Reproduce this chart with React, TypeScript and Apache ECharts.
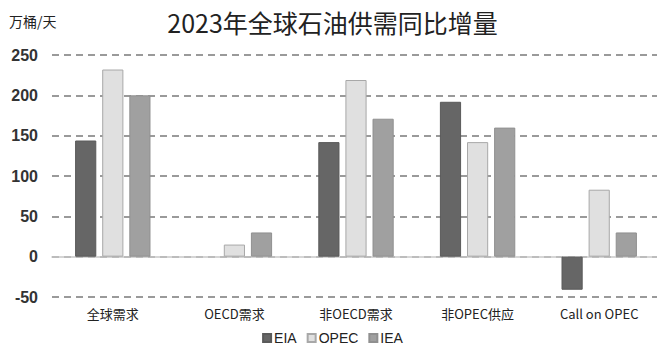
import React, { useEffect, useRef } from "react";
import * as echarts from "echarts";

const categories = ["全球需求", "OECD需求", "非OECD需求", "非OPEC供应", "Call on OPEC"];
const eiaValues = [144, null, 142, 192, -41];
const opecValues = [232, 15, 219, 142, 83];
const ieaValues = [200, 30, 171, 160, 30];
const yTicks = { min: -50, max: 250, interval: 50 };

export default function App() {
  const ref = useRef<HTMLDivElement>(null);
  useEffect(() => {
    if (!ref.current) return;
    const chart = echarts.init(ref.current, undefined, { renderer: "svg" });
    const numFont = "'Liberation Sans Narrow', 'Liberation Sans', Arial, sans-serif";
    const bar = (name: string, data: any[], color: string, border: string) => ({
      name,
      type: "bar",
      data,
      barGap: "28%",
      barCategoryGap: "38%",
      itemStyle: { color, borderColor: border, borderWidth: 1 },
    });
    chart.setOption({
      animation: false,
      backgroundColor: "#ffffff",
      title: [
        {
          text: "2023年全球石油供需同比增量",
          left: "center",
          top: 4,
          textStyle: { fontFamily: "'Noto Sans CJK SC', sans-serif", fontSize: 25, fontWeight: "normal", color: "#222" },
        },
        {
          text: "万桶/天",
          left: 4,
          top: 9,
          textStyle: { fontFamily: "'Noto Sans CJK SC', sans-serif", fontSize: 14, fontWeight: "normal", color: "#222" },
        },
      ],
      legend: {
        bottom: 6,
        left: "center",
        itemWidth: 8,
        itemHeight: 8,
        itemGap: 10,
        icon: "rect",
        textStyle: { fontFamily: numFont, fontSize: 14, color: "#222", padding: [0, 0, 0, -2] },
        data: ["EIA", "OPEC", "IEA"],
      },
      grid: { left: 52, right: 5, top: 55, bottom: 59 },
      xAxis: {
        type: "category",
        data: categories,
        axisLine: { onZero: true, lineStyle: { color: "#c8c8c8", width: 1.5 } },
        axisTick: { show: false },
        axisLabel: {
          interval: 0,
          margin: 10,
          fontFamily: "'Noto Sans CJK SC', sans-serif",
          fontSize: 13,
          color: "#222",
        },
        position: "bottom",
      },
      yAxis: {
        type: "value",
        min: yTicks.min,
        max: yTicks.max,
        interval: yTicks.interval,
        axisLine: { show: false },
        axisTick: { show: false },
        axisLabel: { fontFamily: numFont, fontSize: 16, fontWeight: "bold", color: "#333", margin: 14 },
        splitLine: { lineStyle: { color: "#7a7a7a", type: [7, 5], width: 1.5 } },
      },
      series: [
        bar("EIA", eiaValues, "#666666", "#5a5a5a"),
        bar("OPEC", opecValues, "#e0e0e0", "#a8a8a8"),
        bar("IEA", ieaValues, "#a0a0a0", "#909090"),
      ],
    });
    return () => chart.dispose();
  }, []);
  return <div ref={ref} style={{ width: 665, height: 356, margin: -8 }} />;
}
